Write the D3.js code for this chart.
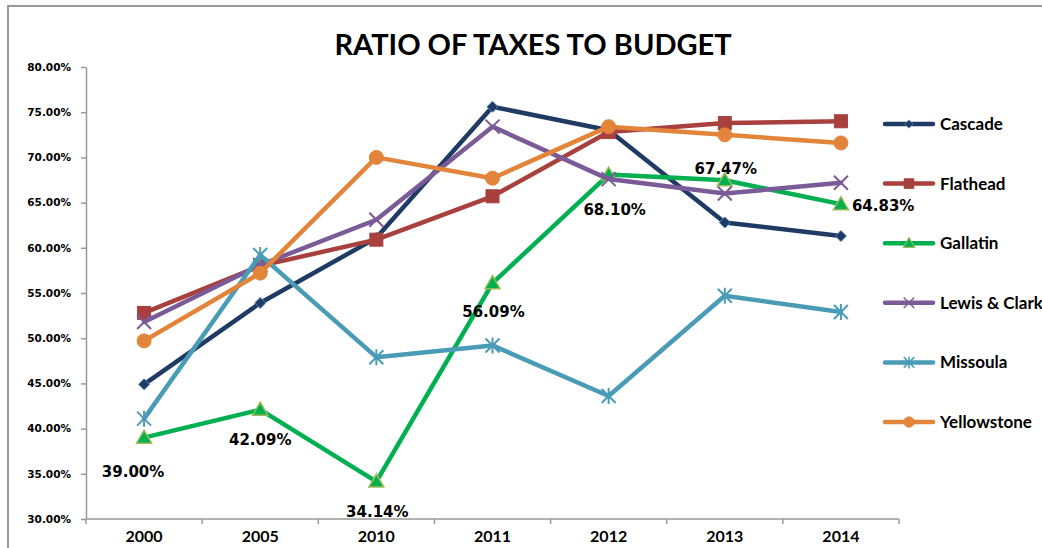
<!DOCTYPE html>
<html>
<head>
<meta charset="utf-8">
<script src="https://cdn.jsdelivr.net/npm/d3@7/dist/d3.min.js"></script>
<style>
  html, body { margin: 0; padding: 0; background: #fff; overflow: hidden; }
  svg { display: block; }
</style>
</head>
<body>
<svg id="chart" width="1042" height="548"></svg>
<script>
// Years on the category axis
const years = ["2000", "2005", "2010", "2011", "2012", "2013", "2014"];

// Ratio of taxes to budget (percent) per county
const cascade     = [44.9, 53.9, 61.1, 75.6, 73.0, 62.8, 61.3];
const flathead    = [52.8, 58.0, 60.9, 65.7, 72.8, 73.8, 74.0];
const gallatin    = [39.00, 42.09, 34.14, 56.09, 68.10, 67.47, 64.83];
const lewisClark  = [51.8, 58.1, 63.1, 73.4, 67.6, 66.0, 67.2];
const missoula    = [41.1, 59.2, 47.9, 49.2, 43.6, 54.7, 52.9];
const yellowstone = [49.7, 57.2, 70.0, 67.7, 73.4, 72.5, 71.6];

const seriesNames = ["Cascade", "Flathead", "Gallatin", "Lewis & Clark", "Missoula", "Yellowstone"];
const seriesValues = [cascade, flathead, gallatin, lewisClark, missoula, yellowstone];

// Value-axis ticks
const yTicks = [30, 35, 40, 45, 50, 55, 60, 65, 70, 75, 80];

// Styling per series
const styles = [
  { color: "#1F3A63", marker: "diamond",  fill: "#1F3A63", stroke: "#4F81BD" },
  { color: "#A8403D", marker: "square",   fill: "#A8403D", stroke: "#A8403D" },
  { color: "#00B050", marker: "triangle", fill: "#00B050", stroke: "#9BBB59" },
  { color: "#7A5B97", marker: "x",        fill: "none",    stroke: "#7A5B97" },
  { color: "#4A9CB6", marker: "star",     fill: "none",    stroke: "#4A9CB6" },
  { color: "#E2843A", marker: "circle",   fill: "#E2843A", stroke: "#E2843A" }
];

// Placement of the Gallatin value labels relative to their points
const labelPlacement = [
  { dx: -11, dy: 39, anchor: "middle" },
  { dx: 0,   dy: 35, anchor: "middle" },
  { dx: 1,   dy: 35, anchor: "middle" },
  { dx: 1,   dy: 34, anchor: "middle" },
  { dx: 6,   dy: 40, anchor: "middle" },
  { dx: 1,   dy: -6, anchor: "middle" },
  { dx: 11,  dy: 7,  anchor: "start" }
];

const svg = d3.select("#chart");
const plot = { left: 86, right: 899, top: 67, bottom: 519 };

// Outer chart frame
svg.append("rect")
  .attr("x", 8).attr("y", 6)
  .attr("width", 1100).attr("height", 600)
  .attr("fill", "#fff")
  .attr("stroke", "#9a9a9a").attr("stroke-width", 2);

// Title
svg.append("text")
  .attr("x", 533).attr("y", 55)
  .attr("text-anchor", "middle")
  .attr("font-family", "Lato, 'Open Sans', sans-serif")
  .attr("font-weight", 700)
  .attr("font-size", 29)
  .attr("fill", "#000")
  .text("RATIO OF TAXES TO BUDGET");

const x = d3.scaleBand().domain(years).range([plot.left, plot.right]).paddingInner(0).paddingOuter(0);
const y = d3.scaleLinear().domain([30, 80]).range([plot.bottom, plot.top]);
const cx = d => x(d) + x.bandwidth() / 2;

// Value axis
const yAxis = svg.append("g")
  .attr("transform", `translate(${plot.left},0)`)
  .call(d3.axisLeft(y).tickValues(yTicks).tickSize(5).tickSizeOuter(0)
    .tickFormat(d => d.toFixed(2) + "%"));
yAxis.select(".domain").attr("stroke", "#999").attr("stroke-width", 1.5);
yAxis.selectAll(".tick line").attr("stroke", "#999").attr("stroke-width", 1.5);
yAxis.selectAll(".tick text")
  .attr("x", -15)
  .attr("font-family", "'DejaVu Sans', sans-serif")
  .attr("font-weight", 700)
  .attr("font-size", 10.5)
  .attr("fill", "#000");

// Category axis with ticks between categories
const xAxisG = svg.append("g").attr("transform", `translate(0,${plot.bottom})`);
xAxisG.append("line")
  .attr("x1", plot.left).attr("x2", plot.right)
  .attr("stroke", "#999").attr("stroke-width", 1.5);
const boundaries = years.map(d => x(d)).concat([plot.right]);
xAxisG.selectAll("line.tk").data(boundaries).join("line")
  .attr("class", "tk")
  .attr("x1", d => d).attr("x2", d => d)
  .attr("y1", 0).attr("y2", 5)
  .attr("stroke", "#999").attr("stroke-width", 1.5);
xAxisG.selectAll("text").data(years).join("text")
  .attr("x", d => cx(d)).attr("y", 23)
  .attr("text-anchor", "middle")
  .attr("font-family", "Lato, 'Open Sans', sans-serif")
  .attr("font-weight", 700)
  .attr("font-size", 16)
  .attr("fill", "#000")
  .text(d => d);

// Marker drawing
function drawMarker(g, type, st) {
  if (type === "diamond") {
    g.append("path").attr("d", "M0,-5.5L5.5,0L0,5.5L-5.5,0Z")
      .attr("fill", st.fill).attr("stroke", st.stroke).attr("stroke-width", 1);
  } else if (type === "square") {
    g.append("rect").attr("x", -6.5).attr("y", -6.5).attr("width", 13).attr("height", 13)
      .attr("fill", st.fill).attr("stroke", st.stroke).attr("stroke-width", 1);
  } else if (type === "triangle") {
    g.append("path").attr("d", "M0,-7.5L7.5,5.5L-7.5,5.5Z")
      .attr("fill", st.fill).attr("stroke", st.stroke).attr("stroke-width", 1.5);
  } else if (type === "x") {
    g.append("path").attr("d", "M-7,-7L7,7M7,-7L-7,7")
      .attr("fill", "none").attr("stroke", st.stroke).attr("stroke-width", 2);
  } else if (type === "star") {
    g.append("path").attr("d", "M-7,-7L7,7M7,-7L-7,7M0,-8L0,8")
      .attr("fill", "none").attr("stroke", st.stroke).attr("stroke-width", 2);
  } else if (type === "circle") {
    g.append("circle").attr("r", 7)
      .attr("fill", st.fill).attr("stroke", st.stroke).attr("stroke-width", 1);
  }
}

const line = d3.line().x((d, i) => cx(years[i])).y(d => y(d));

seriesValues.forEach((vals, s) => {
  const st = styles[s];
  const g = svg.append("g");
  g.append("path")
    .attr("d", line(vals))
    .attr("fill", "none")
    .attr("stroke", st.color)
    .attr("stroke-width", 4.5)
    .attr("stroke-linejoin", "round")
    .attr("stroke-linecap", "round");
  vals.forEach((v, i) => {
    const m = g.append("g").attr("transform", `translate(${cx(years[i])},${y(v)})`);
    drawMarker(m, st.marker, st);
  });
});

// Gallatin value labels
svg.append("g").selectAll("text").data(gallatin).join("text")
  .attr("x", (d, i) => cx(years[i]) + labelPlacement[i].dx)
  .attr("y", (d, i) => y(d) + labelPlacement[i].dy)
  .attr("text-anchor", (d, i) => labelPlacement[i].anchor)
  .attr("font-family", "'DejaVu Sans', sans-serif")
  .attr("font-weight", 700)
  .attr("font-size", 15)
  .attr("fill", "#000")
  .text(d => d.toFixed(2) + "%");

// Legend
const legend = svg.append("g");
seriesNames.forEach((name, s) => {
  const st = styles[s];
  const ly = 124 + s * 59.6;
  const g = legend.append("g").attr("transform", `translate(0,${ly})`);
  g.append("line").attr("x1", 885).attr("x2", 933)
    .attr("stroke", st.color).attr("stroke-width", 4.5).attr("stroke-linecap", "round");
  const m = g.append("g").attr("transform", "translate(909,0) scale(0.75)");
  drawMarker(m, st.marker, st);
  g.append("text")
    .attr("x", 940).attr("y", 0).attr("dy", "0.35em")
    .attr("font-family", "Lato, 'Open Sans', sans-serif")
    .attr("font-weight", 700)
    .attr("font-size", 17)
    .attr("fill", "#000")
    .text(name);
});
</script>
</body>
</html>
